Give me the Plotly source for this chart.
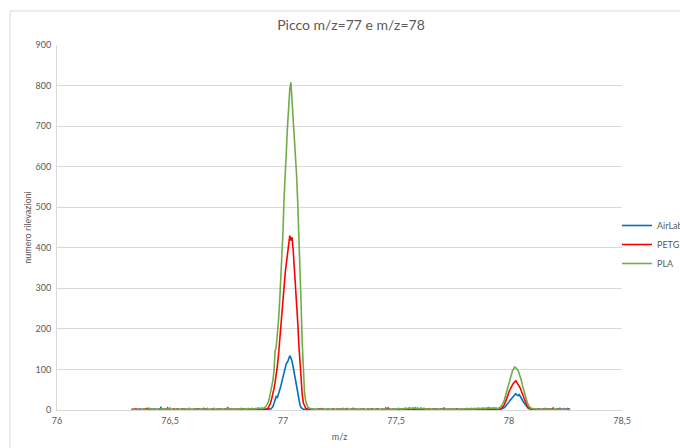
import numpy as np
import plotly.graph_objects as go

# ---------------- data ----------------
# m/z channels: uniform step, segments start at these m/z values
MZ_STEP = 0.005
segment_starts = [76.330, 76.920, 77.125, 77.950, 78.105]

# AirLab (counts)
airlab_base1 = [0,1,0,2,1,0,1,3,1,0,
                2,1,1,0,2,4,1,0,1,2,
                0,1,2,1,0,1,6,2,1,0,
                1,2,0,1,3,1,0,2,1,1,
                0,2,1,0,1,2,3,1,0,1,
                2,0,1,1,0,2,1,0,3,1,
                1,0,2,1,0,1,2,4,1,0,
                1,2,1,0,1,0,2,1,3,1,
                0,1,2,0,1,5,2,1,0,1,
                2,1,0,1,2,1,0,2,1,3,
                1,0,1,2,0,1,2,1,0,1,
                2,1,0,1,1,2,0,1]
airlab_peak77 = [1,2,1,2,3,2,4,8,16,26,
                 33,30,38,48,58,70,82,92,100,115,
                 118,126,134,128,120,106,90,72,52,35,
                 22,13,6,3,2,1,2,1,0,1,
                 1]
airlab_base2 = [1,0,2,1,0,1,1,2,0,1,
                3,1,0,1,2,1,0,0,1,2,
                1,0,1,3,1,0,2,1,0,1,
                2,1,0,1,0,2,1,4,1,0,
                1,2,0,1,1,0,2,1,0,1,
                0,1,2,1,3,1,0,1,2,0,
                1,0,1,2,1,0,5,1,0,2,
                1,1,0,2,1,0,1,3,1,0,
                2,1,0,1,2,1,1,0,2,1,
                0,1,3,1,0,2,1,0,1,2,
                1,0,2,1,1,0,1,2,0,1,
                3,1,0,1,2,1,0,1,4,1,
                0,2,1,0,1,2,1,0,1,3,
                1,0,1,2,0,1,2,1,0,1,
                2,1,3,1,0,2,1,2,3,1,
                2,1,3,2,1,2,3,2,1,2,
                2,3,1,2,2]
airlab_peak78 = [1,2,1,2,3,4,6,9,12,16,
                 20,24,27,30,33,36,40,37,35,38,
                 32,28,24,19,15,11,7,4,3,2,
                 1]
airlab_base3 = [1,2,1,0,2,1,3,1,0,2,
                1,4,2,1,0,3,1,2,5,1,
                0,2,3,1,4,2,1,0,3,2,
                1,4,2,1]

# PETG (counts)
petg_base1 = [1,2,0,1,3,1,0,2,1,1,
              0,1,2,4,1,0,1,2,1,0,
              2,1,0,1,2,3,1,0,1,2,
              1,0,5,1,2,0,1,1,2,0,
              1,3,1,0,2,1,0,1,2,1,
              0,2,1,1,0,3,1,2,0,1,
              2,1,0,1,4,1,0,2,1,0,
              1,2,1,3,0,1,2,1,0,2,
              1,0,1,2,1,5,1,0,2,1,
              0,1,2,1,0,2,1,3,1,0,
              2,1,0,1,2,1,3,1,0,2,
              1,2,3,1,2,2,3,2]
petg_peak77 = [2,3,3,5,10,18,28,38,52,68,
               85,108,135,165,200,240,272,305,340,365,
               385,415,430,418,426,395,355,320,272,218,
               162,112,68,38,18,9,5,3,2,2,
               1]
petg_base2 = [1,2,1,0,1,2,0,1,3,1,
              0,2,1,1,0,2,1,0,1,2,
              3,1,0,1,2,1,0,2,1,0,
              1,2,4,1,0,1,2,1,0,1,
              2,0,1,1,2,0,3,1,0,1,
              2,1,0,1,2,1,0,2,1,3,
              1,0,1,2,0,1,2,1,5,1,
              0,1,2,1,0,1,3,1,0,2,
              1,1,0,2,1,0,1,2,1,0,
              2,3,1,0,1,2,1,0,2,1,
              1,0,2,1,3,1,0,1,2,1,
              0,2,1,0,1,2,1,4,1,0,
              1,2,0,1,2,1,0,2,1,1,
              2,0,1,3,1,0,2,1,2,1,
              0,2,1,3,2,1,2,1,3,2,
              2,3,2,1,2,3,2,2,3,2,
              3,2,2,3,2]
petg_peak78 = [2,3,3,4,6,9,14,20,28,36,
               45,52,58,62,66,70,72,68,64,60,
               54,46,38,30,22,15,10,6,4,3,
               2]
petg_base3 = [2,1,2,1,0,2,1,1,0,2,
              1,0,1,2,1,0,2,1,3,1,
              0,1,2,1,0,1,2,0,1,1,
              0,1,2,1]

# PLA (counts)
pla_base1 = [2,1,3,2,1,0,2,3,1,2,
             1,3,2,0,1,2,4,1,2,1,
             3,2,1,0,2,1,3,2,1,2,
             0,1,3,2,5,1,2,1,0,2,
             3,1,2,1,2,0,1,3,2,1,
             2,4,1,2,1,3,2,0,2,1,
             1,2,3,1,2,1,0,3,2,1,
             2,1,2,4,1,2,3,1,2,2,
             1,3,2,1,2,4,2,1,3,2,
             2,1,3,2,1,3,2,4,2,1,
             3,2,2,4,3,2,3,4,3,2,
             4,3,5,4,3,5,4,5]
pla_peak77 = [6,9,14,20,30,42,55,72,95,145,
              155,180,220,265,320,385,440,525,610,640,
              700,765,790,808,765,730,690,635,580,515,
              445,360,262,165,88,46,22,11,7,5,
              4]
pla_base2 = [3,2,3,2,1,2,3,1,2,2,
             1,3,2,1,2,1,3,2,1,2,
             2,1,2,3,1,2,1,2,4,1,
             2,1,3,2,1,2,1,3,2,1,
             2,2,1,3,2,1,2,3,1,2,
             1,2,3,1,2,2,1,3,2,1,
             2,1,2,3,2,1,3,2,1,2,
             2,3,2,1,2,3,2,4,3,2,
             3,2,4,3,5,3,4,6,3,4,
             5,4,6,3,5,4,3,5,4,3,
             4,3,2,3,2,3,2,1,3,2,
             2,1,2,3,1,2,2,1,3,2,
             1,2,3,2,1,2,3,2,2,1,
             3,2,2,3,2,3,2,3,4,2,
             3,4,3,2,4,3,4,3,5,3,
             4,3,5,4,3,5,4,6,4,5,
             4,5,6,4,5]
pla_peak78 = [3,4,6,8,12,18,26,36,48,60,
              72,82,90,96,101,106,104,100,98,90,
              82,72,60,48,38,28,20,13,8,5,
              4]
pla_base3 = [4,3,2,3,2,1,3,2,2,1,
             2,3,1,2,2,1,3,2,1,2,
             2,1,2,3,1,2,1,2,2,1,
             2,1,2,1]

series_names = ["AirLab", "PETG", "PLA"]
series_colors = ["#0070C0", "#FF0000", "#70AD47"]
series_segments = [
    [airlab_base1, airlab_peak77, airlab_base2, airlab_peak78, airlab_base3],
    [petg_base1, petg_peak77, petg_base2, petg_peak78, petg_base3],
    [pla_base1, pla_peak77, pla_base2, pla_peak78, pla_base3],
]

title_text = "Picco m/z=77 e m/z=78"
x_title = "m/z"
y_title = "numero rilevazioni"

# ---------------- build ----------------
def build_xy(segments):
    xs, ys = [], []
    for start, vals in zip(segment_starts, segments):
        xs.extend(np.round(start + MZ_STEP * np.arange(len(vals)), 4).tolist())
        ys.extend(vals)
    return xs, ys

FONT = "Lato, 'Open Sans', sans-serif"
GREY = "#595959"
GRID = "#d9d9d9"

fig = go.Figure()
for name, color, segs in zip(series_names, series_colors, series_segments):
    x, y = build_xy(segs)
    fig.add_trace(go.Scatter(x=x, y=y, mode="lines", name=name,
                             line=dict(color=color, width=1.6)))

# body margin is removed by post_script below, so pixels map 1:1 to the window
W, H = 680, 448
L, R, T, B = 57, 622, 45, 410          # plot area in window pixels
PW, PH = R - L, B - T
fig.update_layout(
    width=W, height=H,
    margin=dict(l=L, r=W - R, t=T, b=H - B, autoexpand=False),
    paper_bgcolor="white", plot_bgcolor="white",
    separators=",.",
    font=dict(family=FONT, color=GREY, size=9),
    title=dict(text=title_text, x=351 / W, xanchor="center", xref="container",
               y=1 - 25 / H, yanchor="middle", yref="container",
               font=dict(size=14, color=GREY, family=FONT)),
    showlegend=True,
    legend=dict(x=(617 - L) / PW, xanchor="left",
                y=(B - 211) / PH, yanchor="top",
                font=dict(size=9, color=GREY, family=FONT),
                bgcolor="rgba(0,0,0,0)", itemwidth=30, tracegroupgap=0),
    xaxis=dict(range=[76, 78.5], dtick=0.5, tick0=76, showgrid=False,
               showline=True, linecolor=GRID, linewidth=1, zeroline=False,
               ticks="", ticklabelstandoff=2, tickfont=dict(size=9, color=GREY),
               title=dict(text=x_title, font=dict(size=9, color=GREY), standoff=8)),
    yaxis=dict(range=[0, 900], dtick=100, showgrid=True, gridcolor=GRID, gridwidth=1,
               showline=True, linecolor=GRID, linewidth=1, zeroline=False,
               ticks="", ticklabelstandoff=3, tickfont=dict(size=9, color=GREY),
               title=dict(text=y_title, font=dict(size=9, color=GREY), standoff=2)),
    shapes=[dict(type="rect", xref="paper", yref="paper",
                 x0=(10 - L) / PW, x1=(700 - L) / PW,
                 y0=(B - 470) / PH, y1=(B - 11) / PH,
                 line=dict(color=GRID, width=1), fillcolor="rgba(0,0,0,0)",
                 layer="below")],
)

fig.write_html(
    "out.html",
    config={"displayModeBar": False},
    post_script="document.body.style.margin='0px';document.body.style.overflow='hidden';",
)
